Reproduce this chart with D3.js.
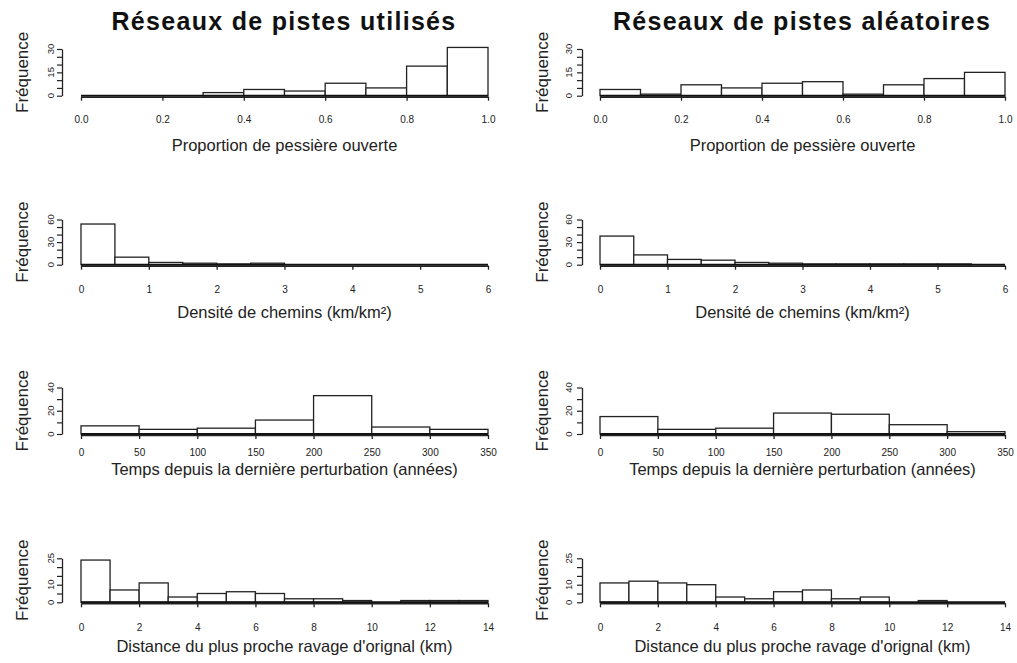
<!DOCTYPE html>
<html>
<head>
<meta charset="utf-8">
<script src="https://cdn.jsdelivr.net/npm/d3@7/dist/d3.min.js"></script>
<style>
  body { margin: 0; background: #fff; }
  svg { display: block; font-family: "Liberation Sans", Arial, Helvetica, sans-serif; }
</style>
</head>
<body>
<svg id="chart" width="1017" height="663"></svg>
<script>
// ---------------- DATA ----------------
const columnTitles = ["Réseaux de pistes utilisés", "Réseaux de pistes aléatoires"];
const yLabel = "Fréquence";

// Row 1: Proportion de pessière ouverte (bins of 0.1)
const propTitle = "Proportion de pessière ouverte";
const propBinStarts = [0.0, 0.1, 0.2, 0.3, 0.4, 0.5, 0.6, 0.7, 0.8, 0.9];
const propUsed   = [0, 0, 0, 2, 4, 3, 8, 5, 19, 31];
const propRandom = [4, 1, 7, 5, 8, 9, 1, 7, 11, 15];
const propXTicks = [0.0, 0.2, 0.4, 0.6, 0.8, 1.0];
const propXLabels = ["0.0", "0.2", "0.4", "0.6", "0.8", "1.0"];
const propYTicks = [0, 5, 10, 15, 20, 25, 30];
const propYLabels = [0, 15, 30];

// Row 2: Densité de chemins (bins of 0.5)
const densTitle = "Densité de chemins (km/km²)";
const densBinStarts = [0, 0.5, 1, 1.5, 2, 2.5, 3, 3.5, 4, 4.5, 5, 5.5];
const densUsed   = [54, 10, 3, 2, 1, 2, 0, 0, 0, 0, 0, 0];
const densRandom = [38, 13, 7, 6, 3, 2, 1, 1, 1, 1, 1, 0];
const densXTicks = [0, 1, 2, 3, 4, 5, 6];
const densXLabels = ["0", "1", "2", "3", "4", "5", "6"];
const densYTicks = [0, 10, 20, 30, 40, 50, 60];
const densYLabels = [0, 30, 60];

// Row 3: Temps depuis la dernière perturbation (bins of 50)
const timeTitle = "Temps depuis la dernière perturbation (années)";
const timeBinStarts = [0, 50, 100, 150, 200, 250, 300];
const timeUsed   = [7, 4, 5, 12, 33, 6, 4];
const timeRandom = [15, 4, 5, 18, 17, 8, 2];
const timeXTicks = [0, 50, 100, 150, 200, 250, 300, 350];
const timeXLabels = ["0", "50", "100", "150", "200", "250", "300", "350"];
const timeYTicks = [0, 10, 20, 30, 40];
const timeYLabels = [0, 20, 40];

// Row 4: Distance du plus proche ravage d'orignal (bins of 1)
const distTitle = "Distance du plus proche ravage d'orignal (km)";
const distBinStarts = [0, 1, 2, 3, 4, 5, 6, 7, 8, 9, 10, 11, 12, 13];
const distUsed   = [24, 7, 11, 3, 5, 6, 5, 2, 2, 1, 0, 1, 1, 1];
const distRandom = [11, 12, 11, 10, 3, 2, 6, 7, 2, 3, 0, 1, 0, 0];
const distXTicks = [0, 2, 4, 6, 8, 10, 12, 14];
const distXLabels = ["0", "2", "4", "6", "8", "10", "12", "14"];
const distYTicks = [0, 5, 10, 15, 20, 25];
const distYLabels = [0, 10, 25];

// ---------------- LAYOUT ----------------
const svg = d3.select("#chart");
const cols = [
  { x0: 81, x1: 488, yAxisX: 62, yTickLabelX: 54, yTitleX: 28, titleX: 284 },
  { x0: 600, x1: 1005, yAxisX: 582, yTickLabelX: 571.5, yTitleX: 548, titleX: 802 }
];
const rows = [
  { base: 95.7, top: 49,    tickOff: 23.5, titleY: 145, title: propTitle, starts: propBinStarts, w: 0.1, xmax: 1.0, ymax: 30,
    data: [propUsed, propRandom], xTicks: propXTicks, xLabels: propXLabels, yTicks: propYTicks, yLabels: propYLabels },
  { base: 264.7, top: 219.5, tickOff: 24.5, titleY: 312, title: densTitle, starts: densBinStarts, w: 0.5, xmax: 6, ymax: 60,
    data: [densUsed, densRandom], xTicks: densXTicks, xLabels: densXLabels, yTicks: densYTicks, yLabels: densYLabels },
  { base: 434, top: 387.5, tickOff: 18, titleY: 469, title: timeTitle, starts: timeBinStarts, w: 50, xmax: 350, ymax: 40,
    data: [timeUsed, timeRandom], xTicks: timeXTicks, xLabels: timeXLabels, yTicks: timeYTicks, yLabels: timeYLabels },
  { base: 602.3, top: 558.3, tickOff: 24.5, titleY: 646, title: distTitle, starts: distBinStarts, w: 1, xmax: 14, ymax: 25,
    data: [distUsed, distRandom], xTicks: distXTicks, xLabels: distXLabels, yTicks: distYTicks, yLabels: distYLabels }
];

// Column titles
cols.forEach((c, i) => {
  svg.append("text")
    .attr("x", c.titleX).attr("y", 30)
    .attr("text-anchor", "middle")
    .attr("font-size", 25).attr("font-weight", "bold").attr("fill", "#111")
    .attr("letter-spacing", 1.3)
    .text(columnTitles[i]);
});

rows.forEach(r => {
  cols.forEach((c, ci) => {
    const values = r.data[ci];
    const x = d3.scaleLinear().domain([0, r.xmax]).range([c.x0, c.x1]);
    const y = d3.scaleLinear().domain([0, r.ymax]).range([r.base, r.top]);
    const g = svg.append("g");

    // bars
    g.selectAll("rect.bar")
      .data(values.map((v, i) => ({ v, s: r.starts[i] })))
      .join("rect")
      .attr("class", "bar")
      .attr("x", d => x(d.s))
      .attr("width", d => x(d.s + r.w) - x(d.s))
      .attr("y", d => y(d.v))
      .attr("height", d => r.base - y(d.v))
      .attr("fill", "#fff")
      .attr("stroke", "#222")
      .attr("stroke-width", 1.3);

    // baseline of bins
    g.append("line")
      .attr("x1", x(r.starts[0])).attr("x2", x(r.starts[r.starts.length - 1] + r.w))
      .attr("y1", r.base).attr("y2", r.base)
      .attr("stroke", "#111").attr("stroke-width", 2);

    // x axis
    const xa = d3.axisBottom(x)
      .tickValues(r.xTicks)
      .tickFormat((d, i) => r.xLabels[i])
      .tickSize(4).tickSizeOuter(0)
      .tickPadding(r.tickOff - 8);
    const xg = g.append("g").attr("transform", `translate(0,${r.base + 1})`).call(xa);
    xg.select(".domain").attr("stroke", "#222").attr("stroke-width", 1.5);
    xg.selectAll(".tick line").attr("stroke", "#222").attr("stroke-width", 1.3);
    xg.selectAll(".tick text").attr("font-size", 10).attr("fill", "#222")
      .attr("font-family", "'Liberation Sans', Arial, sans-serif");

    // y axis
    const ya = d3.axisLeft(y)
      .tickValues(r.yTicks)
      .tickFormat("")
      .tickSize(5).tickSizeOuter(0);
    const yg = g.append("g").attr("transform", `translate(${c.yAxisX},0)`).call(ya);
    yg.select(".domain").attr("stroke", "#222").attr("stroke-width", 1.3);
    yg.selectAll(".tick line").attr("stroke", "#222").attr("stroke-width", 1.2);
    g.selectAll("text.ylab")
      .data(r.yLabels)
      .join("text")
      .attr("class", "ylab")
      .attr("transform", d => `translate(${c.yTickLabelX},${y(d)}) rotate(-90)`)
      .attr("text-anchor", "middle")
      .attr("font-size", 9.5).attr("fill", "#222")
      .text(d => d);

    // y title
    g.append("text")
      .attr("transform", `translate(${c.yTitleX},${(r.base + r.top) / 2}) rotate(-90)`)
      .attr("text-anchor", "middle")
      .attr("font-size", 17).attr("fill", "#222")
      .text(yLabel);

    // x title
    g.append("text")
      .attr("x", (c.x0 + c.x1) / 2).attr("y", r.titleY + 6)
      .attr("text-anchor", "middle")
      .attr("font-size", 16.5).attr("fill", "#222")
      .text(r.title);
  });
});
</script>
</body>
</html>
